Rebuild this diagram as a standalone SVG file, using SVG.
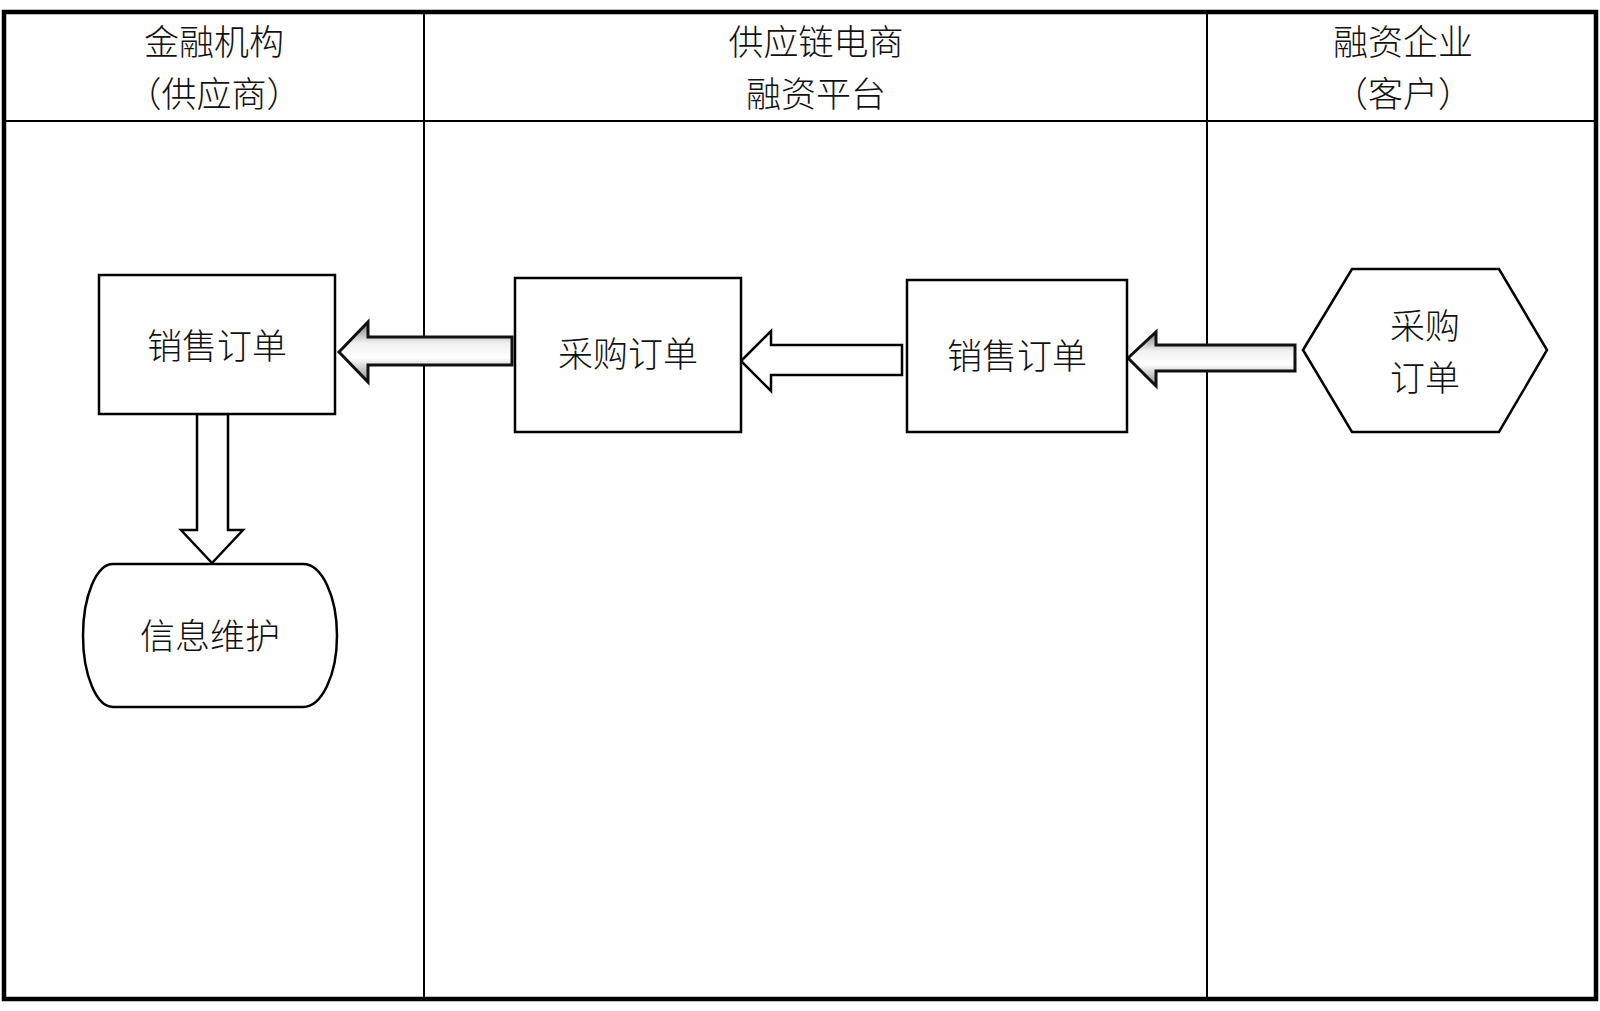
<svg xmlns="http://www.w3.org/2000/svg" width="1600" height="1011" viewBox="0 0 1600 1011">
<style>
.t{font-family:"Noto Sans CJK SC","Noto Sans",sans-serif;font-size:35px;fill:#111;text-anchor:middle;font-weight:300}
.box{fill:#fff;stroke:#000;stroke-width:2.5}
.lane{stroke:#000;stroke-width:2;fill:none}
.plain{fill:#fff;stroke:#000;stroke-width:2.5;stroke-linejoin:miter}
.grad{fill:url(#g);stroke:#111;stroke-width:3;stroke-linejoin:miter}
</style>
<defs>
<linearGradient id="g" x1="0" y1="0" x2="0" y2="1">
<stop offset="0" stop-color="#7a7a7a"/>
<stop offset="0.35" stop-color="#f0f0f0"/>
<stop offset="0.6" stop-color="#ffffff"/>
<stop offset="1" stop-color="#8a8a8a"/>
</linearGradient>
</defs>
<rect width="1600" height="1011" fill="#fff"/>
<g id="lanes">
<rect x="4" y="12" width="1592" height="987" fill="none" stroke="#000" stroke-width="4.5"/>
<line class="lane" x1="4" y1="121" x2="1596" y2="121"/>
<line class="lane" x1="424" y1="12" x2="424" y2="999"/>
<line class="lane" x1="1207" y1="12" x2="1207" y2="999"/>
<text class="t" x="214" y="55">金融机构</text>
<text class="t" x="214" y="107">（供应商）</text>
<text class="t" x="816" y="55">供应链电商</text>
<text class="t" x="816" y="107">融资平台</text>
<text class="t" x="1403" y="55">融资企业</text>
<text class="t" x="1403" y="107">（客户）</text>
</g>
<g id="connectors">
<polygon class="grad" points="339,352 368,322 368,337 512,337 512,365 368,365 368,382"/>
<polygon class="plain" points="741,361 771,331 771,345 902,345 902,375 771,375 771,391"/>
<polygon class="grad" points="1128,358 1156,332 1156,345 1295,345 1295,371 1156,371 1156,386"/>
<polygon class="plain" points="197,414 228,414 228,530 243,530 212,563 181,530 197,530"/>
</g>
<g id="n1">
<rect class="box" x="99" y="275" width="236" height="139"/>
<text class="t" x="217" y="359">销售订单</text>
</g>
<g id="n2">
<rect class="box" x="515" y="278" width="226" height="154"/>
<text class="t" x="628" y="367">采购订单</text>
</g>
<g id="n3">
<rect class="box" x="907" y="280" width="220" height="152"/>
<text class="t" x="1017" y="369">销售订单</text>
</g>
<g id="n4">
<polygon class="box" points="1303,350 1352,269 1499,269 1547,350 1499,432 1352,432"/>
<text class="t" x="1425" y="339">采购</text>
<text class="t" x="1425" y="391">订单</text>
</g>
<g id="n5">
<path class="box" d="M113,564 L303,564 A34,71.5 0 0 1 303,707 L113,707 A30,71.5 0 0 1 113,564 Z"/>
<text class="t" x="210" y="649">信息维护</text>
</g>
</svg>
